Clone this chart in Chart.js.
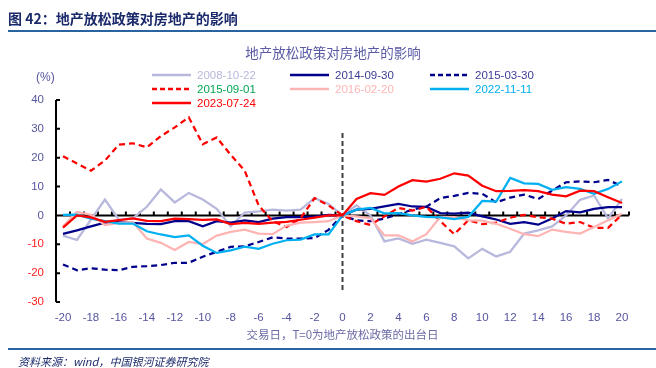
<!DOCTYPE html>
<html>
<head>
<meta charset="utf-8">
<script src="https://cdn.jsdelivr.net/npm/chart.js@4.4.0/dist/chart.umd.min.js"></script>
<style>
  body { margin: 0; background: #fff; }
  #wrap { position: relative; width: 656px; height: 368px; overflow: hidden; font-family: "Liberation Sans", Arial, sans-serif; }
  #chart { position: absolute; left: 0; top: 0; }
  .abs { position: absolute; white-space: nowrap; }
  #head { left: 8px; top: 8px; font: bold 14px "Noto Sans CJK SC", sans-serif; color: #1b2a6b; }
  .rule { left: 8px; right: 0; height: 2px; background: #2a64a0; }
  #title { left: 0; width: 666px; top: 42px; text-align: center; font: 13.5px "Noto Sans CJK SC", sans-serif; color: #5a5aa5; }
  #unit { left: 36px; top: 70px; font-size: 12px; color: #55559f; }
  #src { left: 18px; top: 353px; font: italic 11px "Noto Sans CJK SC", sans-serif; color: #1b2a6b; }
  .leg { position: absolute; width: 130px; height: 14px; font-size: 11.5px; line-height: 14px; white-space: nowrap; }
  .leg svg { position: absolute; left: 0; top: 0; }
  .leg span { position: absolute; top: 0; white-space: nowrap; }
</style>
</head>
<body>
<div id="wrap">
  <canvas id="chart" width="656" height="368"></canvas>
  <div id="head" class="abs">图 42：地产放松政策对房地产的影响</div>
  <div class="abs rule" style="top:30px"></div>
  <div id="title" class="abs">地产放松政策对房地产的影响</div>
  <div id="unit" class="abs">(%)</div>
  <div id="legend"></div>
  <div class="abs rule" style="top:348px"></div>
  <div id="src" class="abs">资料来源：wind，中国银河证券研究院</div>
</div>
<script>
var days = [-20, -19, -18, -17, -16, -15, -14, -13, -12, -11, -10, -9, -8, -7, -6, -5, -4, -3, -2, -1, 0,
            1, 2, 3, 4, 5, 6, 7, 8, 9, 10, 11, 12, 13, 14, 15, 16, 17, 18, 19, 20];
var xTicks = [-20, -18, -16, -14, -12, -10, -8, -6, -4, -2, 0, 2, 4, 6, 8, 10, 12, 14, 16, 18, 20];
var yTicks = [40, 30, 20, 10, 0, -10, -20, -30];

var s20081022 = [-7, -8.5, -1.5, 5.5, -1.5, -1, 3, 9, 4.5, 7.8, 5.5, 2.3, -3.8, 1, 1.4, 2, 1.7, 2, 6, 4, 0,
                 3.5, 0, -9, -8, -9.8, -8.4, -9.5, -10.7, -14.9, -11.6, -14.2, -12.6, -6.3, -5.2, -3.8, 0, 5.4, 6.9, -1, 5.7];
var s20140930 = [-6.4, -5.2, -3.8, -2.5, -2.3, -2.6, -2.9, -3, -2, -2, -3.8, -2, -2.5, -1.7, -2.3, -1.1, -0.6, -0.6, -0.4, 0.2, 0,
                 2, 2.3, 3.1, 4, 3.1, 3, 0.8, 0.6, 1, -0.3, -1.4, -2.9, -2.3, -3.2, -1.1, 1.5, 1.1, 2.3, 2.9, 2.9];
var s20150330 = [-17, -19, -18.3, -18.8, -19, -17.8, -17.6, -17.2, -16.4, -16.4, -14.3, -12.6, -10.9, -10.7, -9.2, -7.6, -8, -8, -7.8, -5, 0,
                 -1.7, -2, -1.1, 0.4, 2, 3, 6, 6.8, 7.8, 7.5, 4.5, 6.2, 7.2, 5.7, 8.6, 11.5, 11.8, 11.5, 12.3, 10.1];
var s20150901 = [20.5, 18, 15.5, 19, 24.5, 25, 23.6, 27.5, 30.5, 34, 24.7, 27, 21, 15.5, 3.5, -2, -4, -1, 6, 3.5, 0,
                 -2, -3.3, -0.3, 2.6, 1.7, 3, -2, -6.5, -1.7, -3, -2.5, -0.8, 0.2, -0.6, -1.1, -2.9, -2.3, -4.3, -4.3, 0.3];
var s20160220 = [-3.8, 1.2, 0.2, -3.3, -2.6, -2.3, -8, -9.5, -12, -9.2, -9.9, -7, -5.7, -4.9, -6.3, -6.5, -3.5, -2.5, -2.3, -2, 0,
                 -0.3, -1, -6.9, -6.9, -9, -6.5, -0.5, -0.6, -1.7, -1.8, -2.9, -4.6, -6.5, -7.2, -4.9, -5.7, -6.3, -4, -1.7, 0.6];
var s20221111 = [0.2, 0.3, -1.1, -2, -2.8, -2.8, -5.5, -6.6, -7.5, -6.9, -10.5, -13, -12.1, -10.8, -11.6, -9.8, -8.6, -8.4, -6.6, -6.6, 0,
                 2, 2.6, 0.7, 0.8, 0, -0.5, -0.7, -1.3, -0.5, 5, 4.8, 13, 11.1, 10.9, 8.9, 9.8, 9.2, 7.5, 9.2, 11.8];
var s20230724 = [-4.2, 0, -0.7, -2.2, -1.6, -1, -1.9, -2, -1.1, -1.3, -1.5, -1.4, -3, -2.6, -2.9, -2.5, -2.2, -1.5, -0.8, 0, 0,
                 5.7, 7.7, 7.1, 10, 12.2, 11.7, 12.7, 14.6, 13.8, 10.3, 8.4, 8.5, 8.8, 8.4, 7.2, 6.6, 8.6, 8.4, 6.3, 4.3];
var markerSpan = [28.6, -25.8];

var series = [
  { name: "2008-10-22", vals: s20081022, color: "#b8b8dc", text: "#b8b8dc", dash: [] },
  { name: "2014-09-30", vals: s20140930, color: "#00008c", text: "#3c3c96", dash: [] },
  { name: "2015-03-30", vals: s20150330, color: "#00008c", text: "#3c3c96", dash: [6, 4] },
  { name: "2015-09-01", vals: s20150901, color: "#ff0000", text: "#00a651", dash: [6, 4] },
  { name: "2016-02-20", vals: s20160220, color: "#ffb4b4", text: "#ffb4b4", dash: [] },
  { name: "2022-11-11", vals: s20221111, color: "#00b0f0", text: "#00b0f0", dash: [] },
  { name: "2023-07-24", vals: s20230724, color: "#ff0000", text: "#ff0000", dash: [] }
];

// html legend
var legPos = [[152, 75], [290, 75], [430, 75], [152, 89], [290, 89], [430, 89], [152, 103]];
var legend = document.getElementById("legend");
series.forEach(function (s, i) {
  var d = document.createElement("div");
  d.className = "leg";
  d.style.left = legPos[i][0] + "px";
  d.style.top = (legPos[i][1] - 7) + "px";
  var da = s.dash.length ? ' stroke-dasharray="5 3"' : '';
  d.innerHTML = '<svg width="40" height="14"><line x1="0" y1="7" x2="39" y2="7" stroke="' + s.color +
    '" stroke-width="2.5"' + da + '/></svg><span style="left:45px;color:' + s.text + '">' + s.name + '</span>';
  legend.appendChild(d);
});

var datasets = series.map(function (s, i) {
  return {
    label: s.name,
    data: s.vals.map(function (v, j) { return { x: days[j], y: v }; }),
    borderColor: s.color,
    borderWidth: 2.25,
    borderDash: s.dash,
    pointRadius: 0,
    tension: 0,
    order: series.length - i
  };
});
datasets.push({
  label: "T=0",
  data: [{ x: 0, y: markerSpan[0] }, { x: 0, y: markerSpan[1] }],
  borderColor: "#404040",
  borderWidth: 2,
  borderDash: [5, 3],
  pointRadius: 0,
  order: 20
});

var axesPlugin = {
  id: "axes",
  beforeDatasetsDraw: function (chart) {
    var ctx = chart.ctx, a = chart.chartArea, x = chart.scales.x, y = chart.scales.y;
    ctx.save();
    ctx.strokeStyle = "#000";
    ctx.lineWidth = 2;
    ctx.beginPath();
    ctx.moveTo(a.left, a.top);
    ctx.lineTo(a.left, a.bottom);
    yTicks.forEach(function (v) {
      var py = y.getPixelForValue(v);
      ctx.moveTo(a.left, py);
      ctx.lineTo(a.left + 4, py);
    });
    var y0 = y.getPixelForValue(0);
    ctx.moveTo(a.left, y0);
    ctx.lineTo(a.right, y0);
    for (var d = -19.5; d <= 20.5; d++) {
      var px = x.getPixelForValue(d);
      ctx.moveTo(px, y0);
      ctx.lineTo(px, y0 - 4);
    }
    ctx.stroke();
    ctx.restore();
  }
};

new Chart(document.getElementById("chart").getContext("2d"), {
  type: "line",
  data: { datasets: datasets },
  plugins: [axesPlugin],
  options: {
    responsive: false,
    animation: false,
    layout: { padding: { left: 0, right: 27, top: 100, bottom: 0 } },
    plugins: { legend: { display: false }, tooltip: { enabled: false } },
    scales: {
      x: {
        type: "linear",
        min: -20.5,
        max: 20.5,
        afterBuildTicks: function (scale) { scale.ticks = xTicks.map(function (v) { return { value: v }; }); },
        afterFit: function (scale) { scale.height = 66; },
        grid: { display: false, drawTicks: false },
        border: { display: false },
        ticks: { color: "#55559f", font: { size: 11.5, family: "Liberation Sans" }, padding: 9, maxRotation: 0, autoSkip: false },
        title: {
          display: true,
          text: "交易日，T=0为地产放松政策的出台日",
          color: "#6a6aa5",
          font: { size: 11.5, family: "Noto Sans CJK SC" },
          padding: { top: 0, bottom: 26 }
        }
      },
      y: {
        min: -30,
        max: 40,
        afterBuildTicks: function (scale) { scale.ticks = yTicks.map(function (v) { return { value: v }; }); },
        afterFit: function (scale) { scale.width = 56; },
        grid: { display: false, drawTicks: false },
        border: { display: false },
        ticks: {
          padding: 12,
          font: { size: 11.5, family: "Liberation Sans" },
          color: function (c) { return c.tick.value < 0 ? "#ff2020" : "#55559f"; }
        }
      }
    }
  }
});
</script>
</body>
</html>
